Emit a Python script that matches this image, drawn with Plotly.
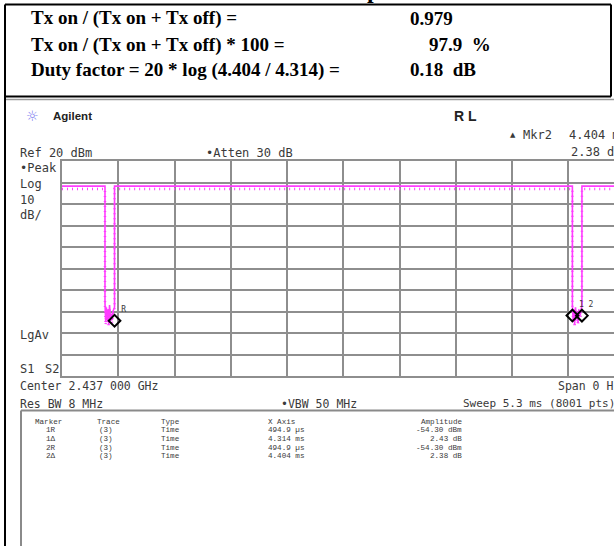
import plotly.graph_objects as go

# ---------------- data ----------------
summary_labels = ["Tx on / (Tx on + Tx off) =",
                  "Tx on / (Tx on + Tx off) * 100 =",
                  "Duty factor = 20 * log (4.404 / 4.314) ="]
summary_values = ["0.979", "97.9\u00a0\u00a0%", "0.18\u00a0\u00a0dB"]

sweep_ms = 5.3
ref_dbm = 20
db_per_div = 10

# trace breakpoints (time in ms, level in dBm)
trace_t = [0.000, 0.405, 0.405, 0.412, 0.418, 0.425, 0.432, 0.440, 0.448, 0.456,
           0.464, 0.472, 0.480, 0.495, 0.495, 4.809, 4.809, 4.816, 4.823, 4.830,
           4.838, 4.846, 4.854, 4.862, 4.870, 4.878, 4.886, 4.899, 4.899, 5.300]
trace_dbm = [8.3, 8.3, -46.0, -55.0, -48.0, -54.0, -49.0, -56.0, -47.0, -53.0,
             -51.0, -54.0, -50.0, -48.0, 8.3, 8.3, -47.0, -54.0, -49.0, -56.0,
             -48.0, -53.0, -50.0, -55.0, -49.0, -52.0, -51.0, -47.0, 8.3, 8.3]

marker_names = ["1R", "1\u0394", "2R", "2\u0394"]
marker_trace = ["(3)", "(3)", "(3)", "(3)"]
marker_type = ["Time", "Time", "Time", "Time"]
marker_x_text = ["494.9 \u00b5s", "4.314 ms", "494.9 \u00b5s", "4.404 ms"]
marker_amp_text = ["-54.30 dBm", "2.43 dB", "-54.30 dBm", "2.38 dB"]
marker_ref_ms = 0.4949
marker_ref_dbm = -54.30
marker_delta_ms = [4.314, 4.404]
marker_delta_db = [2.43, 2.38]

# ---------------- layout helpers ----------------
W, H = 614, 546
L, R, T, B = 62, 614, 161, 376
grat_right = 624.5          # the graticule continues past the crop
x_visible = sweep_ms * (R - L) / (grat_right - L)


def px(x):
    return (x - L) / (R - L)


def py(y):
    return (B - y) / (B - T)


GRID = "#8e8e8e"
TXT = "#3a3a3a"
MONO = "DejaVu Sans Mono"
TMONO = "Liberation Mono"
PINK = "#ff3cff"

fig = go.Figure()

# main trace
fig.add_trace(go.Scatter(x=trace_t, y=trace_dbm, mode="lines",
                         line=dict(color=PINK, width=1.6), hoverinfo="skip"))
# ripple ticks under the on-level
fig.add_trace(go.Scatter(x=trace_t, y=[v - 1.3 for v in trace_dbm], mode="lines",
                         line=dict(color=PINK, width=2.5, dash="1px,4px"),
                         hoverinfo="skip"))

# markers
mk_x = [marker_ref_ms] + [marker_ref_ms + d for d in marker_delta_ms]
mk_y = [marker_ref_dbm] + [marker_ref_dbm + d for d in marker_delta_db]
fig.add_trace(go.Scatter(x=mk_x, y=mk_y, mode="markers+text",
                         marker=dict(symbol="diamond-open", size=9,
                                     color="black", line=dict(width=2)),
                         text=["R", "1", "2"], textposition="top right",
                         textfont=dict(family=MONO, size=8, color=TXT),
                         hoverinfo="skip"))

shapes = []


def hline(y, x0, x1, color, w):
    shapes.append(dict(type="line", xref="paper", yref="paper",
                       x0=px(x0), x1=px(x1), y0=py(y), y1=py(y),
                       line=dict(color=color, width=w)))


def vline(x, y0, y1, color, w):
    shapes.append(dict(type="line", xref="paper", yref="paper",
                       x0=px(x), x1=px(x), y0=py(y0), y1=py(y1),
                       line=dict(color=color, width=w)))


# top table border
hline(4.5, 5, 611, "black", 2)
hline(96.5, 5, 611, "black", 2)
vline(611, 4.5, 96.5, "black", 2)
vline(5, 4.5, 560, "black", 2)
# screenshot frame lines
hline(99.5, 6, 620, "#9a9a9a", 1.5)
hline(410.5, 21, 620, "#8a8a8a", 2)
vline(21, 410.5, 560, "#8a8a8a", 2)

ann = []


def text(x, y, s, size=12, family=MONO, color=TXT, anchor="left", bold=False):
    if bold:
        s = "<b>" + s + "</b>"
    ann.append(dict(x=px(x), y=py(y), xref="paper", yref="paper", text=s,
                    showarrow=False, xanchor=anchor, yanchor="middle",
                    font=dict(family=family, size=size, color=color),
                    borderpad=0))


# cropped title fragment
ann.append(dict(x=px(366), y=py(4.5), xref="paper", yref="paper", text="<b>p</b>",
                showarrow=False, xanchor="left", yanchor="bottom", borderpad=0,
                font=dict(family="Liberation Serif", size=24, color="black")))

SERIF = "Liberation Serif"
row_y = [18.5, 44.5, 69.5]
val_x = [409, 428, 409]
for i in range(3):
    text(30, row_y[i], summary_labels[i], size=19, family=SERIF,
         color="black", bold=True)
    text(val_x[i], row_y[i], summary_values[i], size=19, family=SERIF,
         color="black", bold=True)

# analyzer header
text(25, 116.5, "\u263c", size=14, family="DejaVu Sans", color="#7b7bef")
text(52, 116.5, "Agilent", size=11.5, family="Liberation Sans", color="#222", bold=True)
text(453, 115.5, "R L", size=14, family="Liberation Sans", color="#222", bold=True)
text(509, 135, "\u25b2", size=7, family="DejaVu Sans", color=TXT)
text(522, 135, "Mkr2", size=12)
text(568, 135, "4.404 ms", size=12)
text(570, 151.5, "2.38 dB", size=12)
text(19, 152.5, "Ref 20 dBm", size=12)
text(205, 152.5, "\u2022Atten 30 dB", size=12)
for s, y in zip(["\u2022Peak", "Log", "10", "dB/"], [167.5, 183.5, 199.5, 214.5]):
    text(19, y, s, size=12)
text(19, 335, "LgAv", size=12)
text(19, 368.5, "S1", size=12)
text(44, 368.5, "S2", size=12)
text(19, 386, "Center 2.437 000 GHz", size=11.5)
text(557, 385.5, "Span 0 Hz", size=11.5)
text(19, 403.5, "Res BW 8 MHz", size=11.5)
text(280, 403.5, "\u2022VBW 50 MHz", size=11.5)
text(462, 403.5, "Sweep 5.3 ms (8001 pts)", size=11)

# marker table
TS = 7.6
hdr_y = 421.7
row_step = 8.6
for s, x in zip(["Marker", "Trace", "Type", "X Axis"], [34, 96, 160, 267]):
    text(x, hdr_y, s, size=TS, family=TMONO)
text(463, hdr_y, "Amplitude", size=TS, family=TMONO, anchor="right")
for i in range(4):
    y = hdr_y + row_step * (i + 1)
    text(45, y, marker_names[i], size=TS, family=TMONO)
    text(98, y, marker_trace[i], size=TS, family=TMONO)
    text(160, y, marker_type[i], size=TS, family=TMONO)
    text(267, y, marker_x_text[i], size=TS, family=TMONO)
    text(463, y, marker_amp_text[i], size=TS, family=TMONO, anchor="right")

fig.update_layout(
    width=W, height=H, autosize=False,
    margin=dict(l=L, r=W - R, t=T, b=H - B, pad=0),
    paper_bgcolor="white", plot_bgcolor="white",
    showlegend=False,
    shapes=shapes, annotations=ann,
    xaxis=dict(range=[0, x_visible], tick0=0, dtick=sweep_ms / 10,
               showticklabels=False, ticks="", showgrid=True,
               gridcolor=GRID, gridwidth=1.5, zeroline=False,
               showline=True, linecolor=GRID, linewidth=1.5, mirror=True,
               fixedrange=True),
    yaxis=dict(range=[ref_dbm - 10 * db_per_div, ref_dbm], tick0=ref_dbm,
               dtick=db_per_div, showticklabels=False, ticks="",
               showgrid=True, gridcolor=GRID, gridwidth=1.5, zeroline=False,
               showline=True, linecolor=GRID, linewidth=1.5, mirror=False,
               fixedrange=True),
)

fig.write_html("out.html", config={"displayModeBar": False})
